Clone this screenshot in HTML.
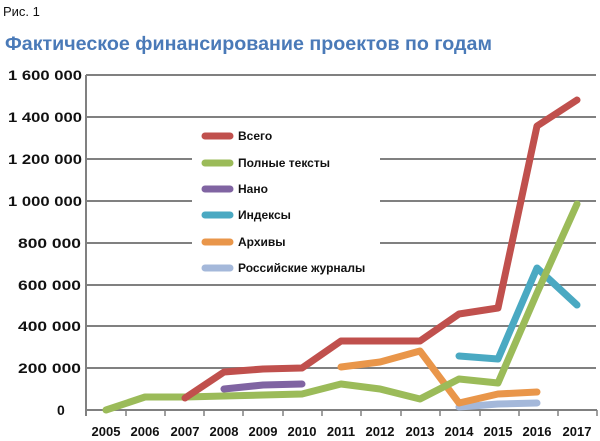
<!DOCTYPE html>
<html><head><meta charset="utf-8"><style>
body{margin:0;background:#fff;}
svg{display:block;font-family:"Liberation Sans","DejaVu Sans",sans-serif;}
</style></head><body>
<svg width="600" height="441" viewBox="0 0 600 441" xmlns="http://www.w3.org/2000/svg">
<text x="3" y="16" font-size="13" fill="#111">Рис. 1</text>
<text x="5" y="50" font-size="19" font-weight="bold" fill="#4a7ab8" textLength="487" lengthAdjust="spacingAndGlyphs">Фактическое финансирование проектов по годам</text>
<g stroke="#808080" stroke-width="2">
<line x1="86" y1="75" x2="596" y2="75"/>
<line x1="86" y1="117" x2="596" y2="117"/>
<line x1="86" y1="159" x2="596" y2="159"/>
<line x1="86" y1="201" x2="596" y2="201"/>
<line x1="86" y1="243" x2="596" y2="243"/>
<line x1="86" y1="285" x2="596" y2="285"/>
<line x1="86" y1="326" x2="596" y2="326"/>
<line x1="86" y1="368" x2="596" y2="368"/>
<line x1="86" y1="410" x2="597" y2="410"/>
<line x1="86" y1="75" x2="86" y2="416"/>
</g>
<g stroke="#808080" stroke-width="1.5">
<line x1="126" y1="410" x2="126" y2="416"/><line x1="165" y1="410" x2="165" y2="416"/><line x1="204" y1="410" x2="204" y2="416"/><line x1="243" y1="410" x2="243" y2="416"/><line x1="283" y1="410" x2="283" y2="416"/><line x1="322" y1="410" x2="322" y2="416"/><line x1="361" y1="410" x2="361" y2="416"/><line x1="401" y1="410" x2="401" y2="416"/><line x1="440" y1="410" x2="440" y2="416"/><line x1="480" y1="410" x2="480" y2="416"/><line x1="519" y1="410" x2="519" y2="416"/><line x1="558" y1="410" x2="558" y2="416"/><line x1="597" y1="410" x2="597" y2="416"/>
</g>
<g font-size="14" font-weight="bold" fill="#111">
<text x="8" y="80" textLength="74" lengthAdjust="spacingAndGlyphs">1 600 000</text>
<text x="8" y="122" textLength="74" lengthAdjust="spacingAndGlyphs">1 400 000</text>
<text x="8" y="164" textLength="74" lengthAdjust="spacingAndGlyphs">1 200 000</text>
<text x="8" y="206" textLength="74" lengthAdjust="spacingAndGlyphs">1 000 000</text>
<text x="18" y="248" textLength="63" lengthAdjust="spacingAndGlyphs">800 000</text>
<text x="18" y="290" textLength="63" lengthAdjust="spacingAndGlyphs">600 000</text>
<text x="18" y="331" textLength="63" lengthAdjust="spacingAndGlyphs">400 000</text>
<text x="18" y="373" textLength="63" lengthAdjust="spacingAndGlyphs">200 000</text>
<text x="57" y="415">0</text>
</g>
<g font-size="13" font-weight="bold" fill="#111" text-anchor="middle">
<text x="106" y="436">2005</text><text x="145" y="436">2006</text><text x="185" y="436">2007</text><text x="224" y="436">2008</text><text x="263" y="436">2009</text><text x="302" y="436">2010</text><text x="341" y="436">2011</text><text x="380" y="436">2012</text><text x="420" y="436">2013</text><text x="459" y="436">2014</text><text x="498" y="436">2015</text><text x="537" y="436">2016</text><text x="577" y="436">2017</text>
</g>
<rect x="192" y="124" width="188" height="154" fill="#fff"/>
<g fill="none" stroke-width="7" stroke-linecap="round" stroke-linejoin="round">
<polyline stroke="#a4b8da" points="459,407 498,404 537,403"/>
<polyline stroke="#e9964a" points="341,367 380,362 420,351 459,403 498,394 537,392"/>
<polyline stroke="#4aa9c2" points="459,356 498,359 537,268 577,305"/>
<polyline stroke="#8064a2" points="224,389 263,385 302,384"/>
<polyline stroke="#9bbb59" points="106,410 145,397 185,397 224,396 263,395 302,394 341,384 380,389 420,399 459,379 498,383 537,293 577,204"/>
<polyline stroke="#c0504d" points="185,398 224,372 263,369 302,368 341,341 380,341 420,341 459,314 498,308 537,126 577,100"/>
</g>
<g stroke-width="7" stroke-linecap="round">
<line x1="205" y1="136" x2="230" y2="136" stroke="#c0504d"/>
<line x1="205" y1="163" x2="230" y2="163" stroke="#9bbb59"/>
<line x1="205" y1="189" x2="230" y2="189" stroke="#8064a2"/>
<line x1="205" y1="215" x2="230" y2="215" stroke="#4aa9c2"/>
<line x1="205" y1="242" x2="230" y2="242" stroke="#e9964a"/>
<line x1="205" y1="268" x2="230" y2="268" stroke="#a4b8da"/>
</g>
<g font-size="12" font-weight="bold" fill="#111">
<text x="238" y="140">Всего</text>
<text x="238" y="167">Полные тексты</text>
<text x="238" y="193">Нано</text>
<text x="238" y="219">Индексы</text>
<text x="238" y="246">Архивы</text>
<text x="238" y="272">Российские журналы</text>
</g>
</svg>
</body></html>
